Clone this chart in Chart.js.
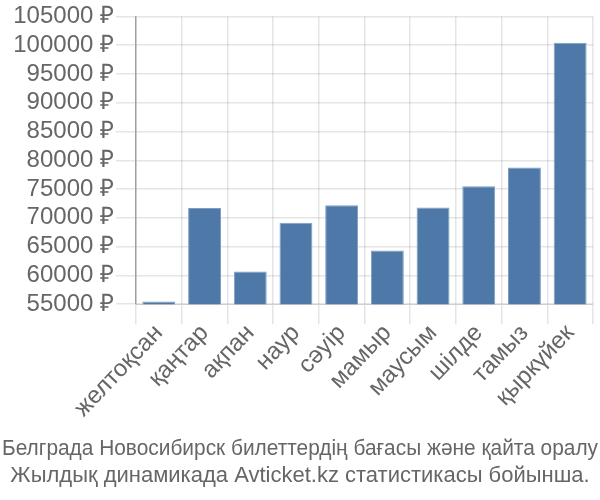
<!DOCTYPE html>
<html>
<head>
<meta charset="utf-8">
<script src="https://cdn.jsdelivr.net/npm/chart.js@4"></script>
<style>
html,body{margin:0;padding:0;background:#fff;}
#wrap{width:600px;height:500px;}
</style>
</head>
<body>
<div id="wrap"><canvas id="c"></canvas></div>
<script>
const categories = ["желтоқсан","қаңтар","ақпан","наур","сәуір","мамыр","маусым","шілде","тамыз","қыркүйек"];
const prices = [55470,71720,60690,69140,72190,64310,71790,75470,78740,100410];
const yMin = 55000, yMax = 105000, yStep = 5000;
const currency = " ₽";
const titleLines = ["Белграда Новосибирск билеттердің бағасы және қайта оралу","Жылдық динамикада Avticket.kz статистикасы бойынша."];

new Chart(document.getElementById('c'), {
  type: 'bar',
  data: {
    labels: categories,
    datasets: [{
      data: prices,
      backgroundColor: '#4e78a7',
      borderColor: '#7f9dc3',
      borderWidth: 1
    }]
  },
  options: {
    responsive: true,
    maintainAspectRatio: false,
    animation: false,
    layout: { padding: { left: 2, right: 2, top: 0, bottom: 0 } },
    plugins: {
      legend: { display: false },
      tooltip: { enabled: false },
      title: {
        display: true,
        position: 'bottom',
        text: titleLines,
        color: '#666',
        font: { family: 'Liberation Sans', size: 22, weight: 'normal', lineHeight: 1.2 },
        padding: { top: 0, bottom: 11 }
      }
    },
    scales: {
      x: {
        grid: { color: 'rgba(0,0,0,0.1)', lineWidth: 1.5, tickLength: 20, offset: true },
        border: { color: 'rgba(0,0,0,0.15)' },
        ticks: { color: '#666', font: { family: 'Liberation Sans', size: 24 }, maxRotation: 50, padding: -5 },
        afterFit: s => { s.height = 132; }
      },
      y: {
        min: yMin, max: yMax,
        grid: { color: 'rgba(0,0,0,0.1)', lineWidth: 1.5, tickLength: 20 },
        border: { color: 'rgba(0,0,0,0.3)', width: 1.5 },
        ticks: { stepSize: yStep, autoSkip: false, color: '#666', font: { family: 'Liberation Sans', size: 24 }, padding: 2,
          callback: v => v + currency },
        afterFit: s => { s.width = 134; }
      },
      y2: {
        position: 'right',
        display: true,
        grid: { display: false },
        border: { display: false },
        ticks: { display: false },
        afterFit: s => { s.width = 5; }
      }
    }
  }
});
</script>
</body>
</html>
